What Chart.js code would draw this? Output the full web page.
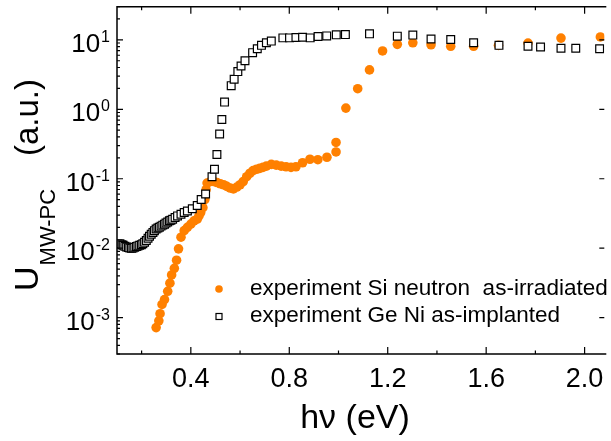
<!DOCTYPE html>
<html>
<head>
<meta charset="UTF-8">
<title>U MW-PC vs photon energy</title>
<script src="https://cdn.jsdelivr.net/npm/chart.js"></script>
<style>
  html, body { margin: 0; padding: 0; background: #fff; overflow: hidden; }
</style>
</head>
<body>
<canvas id="chart" width="611" height="441"></canvas>
<script>
// experiment Si neutron as-irradiated (orange dots)
const siX = [0.259, 0.270, 0.275, 0.283, 0.293, 0.306, 0.315, 0.322, 0.333, 0.342,
             0.350, 0.360, 0.373, 0.386, 0.400, 0.413, 0.426, 0.433, 0.440, 0.449,
             0.457, 0.462, 0.466, 0.480, 0.493, 0.506, 0.520, 0.533, 0.546, 0.560,
             0.573, 0.587, 0.600, 0.613, 0.627, 0.640, 0.653, 0.667, 0.680, 0.693,
             0.707, 0.727, 0.747, 0.767, 0.787, 0.807, 0.827, 0.854, 0.884, 0.916,
             0.953, 0.990, 0.990, 1.030, 1.078, 1.126, 1.179, 1.239, 1.302, 1.376,
             1.456, 1.549, 1.650, 1.770, 1.904, 2.064];
const siY = [7.2e-4, 9.0e-4, 1.14e-3, 1.55e-3, 1.82e-3, 2.4e-3, 3.14e-3, 4.12e-3, 5.13e-3, 6.72e-3,
             9.8e-3, 0.0144, 0.0179, 0.020, 0.0222, 0.0248, 0.0262, 0.0292, 0.0326, 0.0384,
             0.0502, 0.0696, 0.0867, 0.0913, 0.0913, 0.0883, 0.0847, 0.0820, 0.0776, 0.0736,
             0.0713, 0.076, 0.082, 0.0913, 0.107, 0.120, 0.131, 0.137, 0.141, 0.146,
             0.152, 0.161, 0.157, 0.152, 0.149, 0.146, 0.149, 0.170, 0.191, 0.188,
             0.204, 0.243, 0.333, 1.04, 1.98, 3.69, 6.92, 8.61, 9.07, 8.49,
             8.07, 8.07, 8.33, 8.98, 10.6, 11.0];

// experiment Ge Ni as-implanted (open squares)
const geX = [0.104, 0.112, 0.120, 0.125, 0.132, 0.139, 0.146, 0.152, 0.159, 0.165,
             0.172, 0.179, 0.185, 0.192, 0.199, 0.205, 0.212, 0.219, 0.226, 0.232,
             0.239, 0.246, 0.252, 0.259, 0.266, 0.272, 0.279, 0.286, 0.293, 0.299,
             0.306, 0.313, 0.319, 0.326, 0.336, 0.346, 0.360, 0.373, 0.386, 0.406,
             0.426, 0.442, 0.460, 0.486, 0.496, 0.506, 0.517, 0.526, 0.537, 0.564,
             0.576, 0.591, 0.604, 0.620, 0.651, 0.670, 0.687, 0.707, 0.727, 0.774,
             0.801, 0.827, 0.854, 0.885, 0.917, 0.952, 0.991, 1.028, 1.126, 1.239,
             1.302, 1.376, 1.456, 1.549, 1.652, 1.770, 1.821, 1.904, 1.964, 2.061];
const geY = [0.0116, 0.0116, 0.0112, 0.0110, 0.0107, 0.0104, 0.0102, 0.0101, 0.0100, 0.0101,
             0.0103, 0.0106, 0.0108, 0.0110, 0.0112, 0.0116, 0.0122, 0.0129, 0.0139, 0.0149,
             0.0159, 0.0169, 0.0179, 0.0189, 0.0195, 0.0200, 0.0208, 0.0215, 0.0222, 0.0230,
             0.0239, 0.0248, 0.0253, 0.0262, 0.0277, 0.0292, 0.0308, 0.0326, 0.0343, 0.0371,
             0.0413, 0.0502, 0.0605, 0.107, 0.137, 0.224, 0.442, 0.713, 1.27, 2.19,
             2.71, 3.49, 4.20, 4.99, 6.54, 7.46, 8.33, 9.07, 9.59, 10.67,
             10.67, 10.8, 10.9, 10.67, 11.2, 11.4, 11.8, 11.9, 12.2, 11.3,
             11.7, 10.3, 10.1, 9.07, 8.33, 8.07, 7.88, 7.55, 7.55, 7.45];

const xTicks = [0.4, 0.8, 1.2, 1.6, 2.0];
const xTickLabels = ['0.4', '0.8', '1.2', '1.6', '2.0'];
const yExponents = [1, 0, -1, -2, -3];

const ORANGE = '#ff8000';
const FONT = '"Liberation Sans", Arial, sans-serif';

// axes, ticks, labels and legend drawn by hand (inward ticks, 10^n labels)
const axisPlugin = {
  id: 'axisPlugin',
  afterDraw(chart) {
    const { ctx, chartArea: a, scales: { x, y } } = chart;
    ctx.save();
    ctx.strokeStyle = '#000';
    ctx.lineWidth = 1.5;
    ctx.beginPath();
    ctx.moveTo(a.right + 2, a.top);
    ctx.lineTo(a.left, a.top);
    ctx.lineTo(a.left, a.bottom);
    ctx.lineTo(a.right + 2, a.bottom);
    ctx.stroke();

    ctx.lineWidth = 1.2;
    ctx.beginPath();
    for (let i = 1; i <= 10; i++) {
      const px = x.getPixelForValue(i * 0.2);
      const major = i % 2 === 0;
      ctx.moveTo(px, a.bottom);
      ctx.lineTo(px, a.bottom - (major ? 7 : 3.5));
      ctx.moveTo(px, a.top);
      ctx.lineTo(px, a.top + (major ? 7 : 3.5));
    }
    for (let e = -4; e <= 1; e++) {
      for (let m = 1; m <= 9; m++) {
        const v = m * Math.pow(10, e);
        if (v < y.min || v > y.max) continue;
        const py = y.getPixelForValue(v);
        ctx.moveTo(a.left, py);
        ctx.lineTo(a.left + (m === 1 ? 6 : 3), py);
        if (m === 1) {
          ctx.moveTo(a.right, py);
          ctx.lineTo(a.right - 5, py);
        }
      }
    }
    ctx.stroke();

    ctx.fillStyle = '#000';
    ctx.textBaseline = 'alphabetic';
    // x tick labels
    ctx.font = '27px ' + FONT;
    ctx.textAlign = 'center';
    xTicks.forEach((v, i) => {
      ctx.fillText(xTickLabels[i], x.getPixelForValue(v), 387);
    });
    // y tick labels 10^n
    ctx.textAlign = 'left';
    yExponents.forEach(e => {
      const py = y.getPixelForValue(Math.pow(10, e));
      const sup = String(e);
      ctx.font = '16px ' + FONT;
      const supW = ctx.measureText(sup).width;
      ctx.font = '26px ' + FONT;
      const baseW = ctx.measureText('10').width;
      const x0 = 110 - supW - baseW - 1;
      ctx.fillText('10', x0, py + 12);
      ctx.font = '16px ' + FONT;
      ctx.fillText(sup, x0 + baseW + 1, py + 2);
    });

    // x title
    ctx.font = '34px ' + FONT;
    ctx.textAlign = 'center';
    ctx.fillText('h\u03bd (eV)', 355, 428);

    // y title, rotated
    ctx.save();
    ctx.translate(38, 291);
    ctx.rotate(-Math.PI / 2);
    ctx.textAlign = 'left';
    ctx.font = '34px ' + FONT;
    ctx.fillText('U', 0, 0);
    const uW = ctx.measureText('U').width;
    ctx.font = '22px ' + FONT;
    ctx.fillText('MW-PC', uW + 1, 17);
    ctx.font = '33px ' + FONT;
    ctx.textAlign = 'right';
    ctx.fillText('(a.u.)', 212, 0);
    ctx.restore();

    // legend
    ctx.font = '22.5px ' + FONT;
    ctx.textAlign = 'left';
    ctx.textBaseline = 'middle';
    const ds = chart.data.datasets;
    ctx.fillStyle = ORANGE;
    ctx.beginPath();
    ctx.arc(219, 289, 3.8, 0, Math.PI * 2);
    ctx.fill();
    ctx.fillStyle = '#000';
    ctx.fillText(ds[0].label, 250, 289);
    ctx.strokeStyle = '#000';
    ctx.lineWidth = 1.2;
    ctx.strokeRect(216, 313.5, 6, 6);
    ctx.fillText(ds[1].label, 250, 316);
    ctx.restore();
  }
};

new Chart(document.getElementById('chart'), {
  type: 'scatter',
  data: {
    datasets: [
      {
        label: 'experiment Si neutron  as-irradiated',
        data: siX.map((v, i) => ({ x: v, y: siY[i] })),
        pointStyle: 'circle',
        pointRadius: 4.8,
        backgroundColor: ORANGE,
        borderWidth: 0,
        order: 2
      },
      {
        label: 'experiment Ge Ni as-implanted',
        data: geX.map((v, i) => ({ x: v, y: geY[i] })),
        pointStyle: 'rect',
        pointRadius: 5.5,
        backgroundColor: '#fff',
        borderColor: '#000',
        borderWidth: 1.2,
        order: 1
      }
    ]
  },
  options: {
    responsive: false,
    animation: false,
    devicePixelRatio: 1,
    layout: { padding: { left: 117, top: 4, right: 0, bottom: 87 } },
    plugins: { legend: { display: false }, tooltip: { enabled: false } },
    scales: {
      x: { type: 'linear', min: 0.1, max: 2.08, display: false },
      y: { type: 'logarithmic', min: 3.3e-4, max: 30, display: false }
    }
  },
  plugins: [axisPlugin]
});
</script>
</body>
</html>
